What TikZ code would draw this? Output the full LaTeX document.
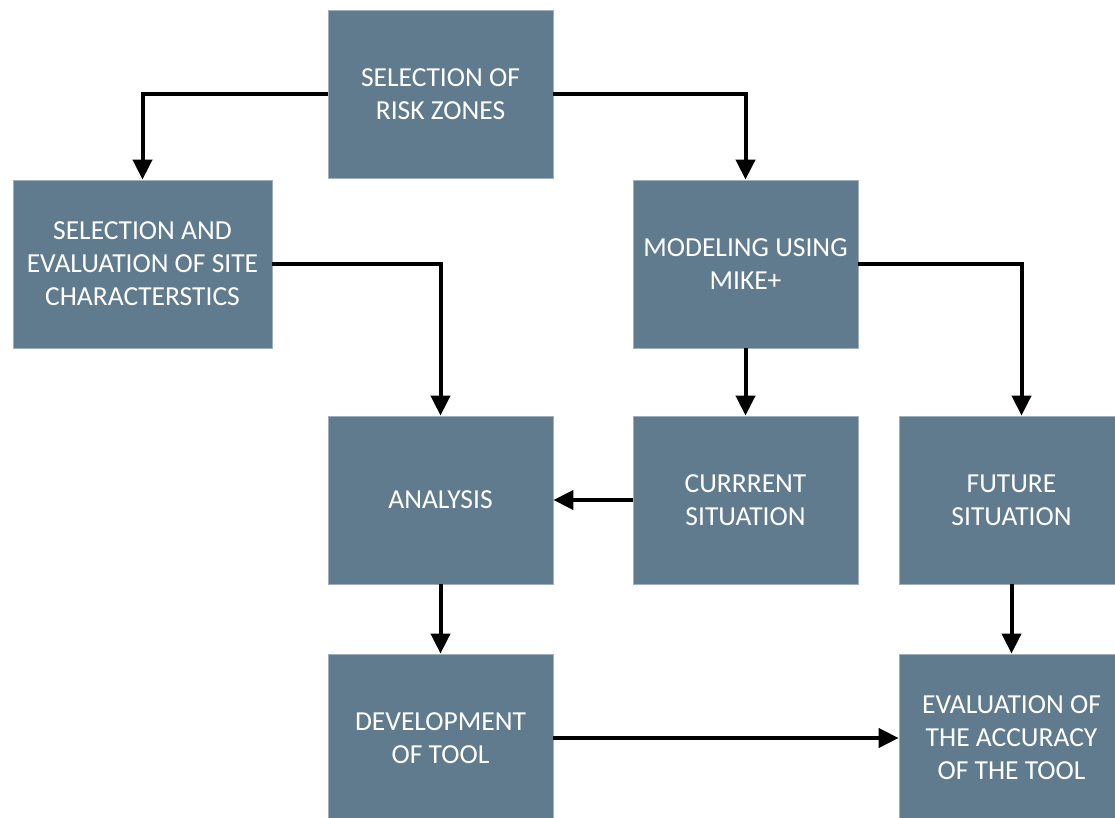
\documentclass[tikz,border=0pt]{standalone}
\usepackage{fontspec}
\setmainfont{Carlito}
\usetikzlibrary{arrows.meta,calc}
\definecolor{boxfill}{HTML}{607B8E}
\definecolor{boxline}{HTML}{9FB0BC}
\tikzset{
  stepbox/.style={rectangle, fill=boxfill, draw=boxline, line width=0.8pt,
    minimum width=225pt, minimum height=168pt, inner sep=0pt,
    text=white, align=center,
    font=\fontsize{27.5}{33}\selectfont},
  flow/.style={line width=4pt, -{Triangle[width=19pt,length=20pt]}}
}
\begin{document}
\begin{tikzpicture}[x=1pt,y=-1pt]
\useasboundingbox (0,0) rectangle (1115,818);
\begin{scope}
\clip (0,0) rectangle (1115,818);
\node[stepbox] (SR) at (440.5,94) {SELECTION OF\\RISK ZONES};
\node[stepbox, minimum width=259pt] (SE) at (142.5,264) {SELECTION AND\\EVALUATION OF SITE\\CHARACTERSTICS};
\node[stepbox] (MM) at (745.5,264) {MODELING USING\\MIKE+};
\node[stepbox] (AN) at (440.5,500) {ANALYSIS};
\node[stepbox] (CS) at (745.5,500) {CURRRENT\\SITUATION};
\node[stepbox] (FS) at (1011.5,500) {FUTURE\\SITUATION};
\node[stepbox] (DT) at (440.5,738) {DEVELOPMENT\\OF TOOL};
\node[stepbox] (EA) at (1011.5,738) {EVALUATION OF\\THE ACCURACY\\OF THE TOOL};
\end{scope}
\draw[flow] (SR.west) -| (SE.north);
\draw[flow] (SR.east) -| (MM.north);
\draw[flow] (SE.east) -| (AN.north);
\draw[flow] (MM.east) -| ($(FS.north)+(10,0)$);
\draw[flow] (MM.south) -- (CS.north);
\draw[flow] (CS.west) -- (AN.east);
\draw[flow] (AN.south) -- (DT.north);
\draw[flow] (DT.east) -- (EA.west);
\draw[flow] (FS.south) -- (EA.north);
\end{tikzpicture}
\end{document}
